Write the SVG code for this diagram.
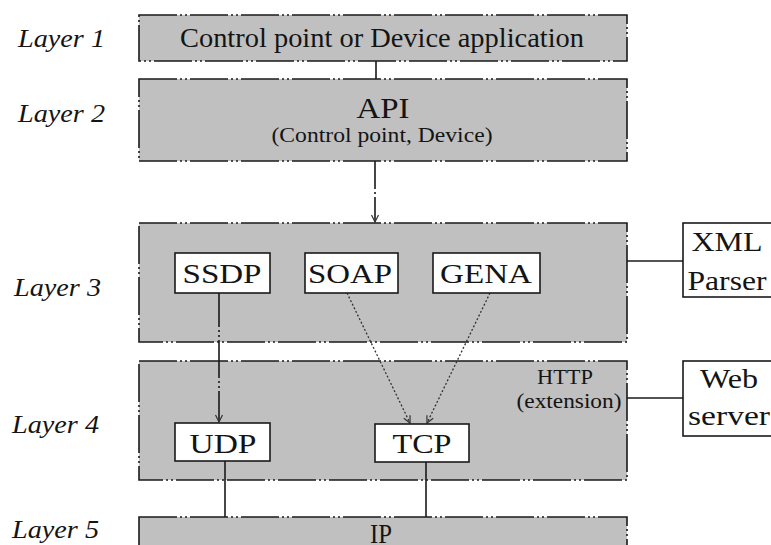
<svg xmlns="http://www.w3.org/2000/svg" width="771" height="545" viewBox="0 0 771 545">
<style>
.layer{fill:#c0c0c0;stroke:#1a1a1a;stroke-width:1.6;stroke-dasharray:38 3 2 3 2 3}
.box{fill:#ffffff;stroke:#1a1a1a;stroke-width:1.6}
.t{font-family:'Liberation Serif','DejaVu Serif','Times New Roman',serif;fill:#141414;text-anchor:middle}
.lbl{font-family:'Liberation Serif','DejaVu Serif','Times New Roman',serif;font-style:italic;font-size:26px;fill:#141414}
.c{fill:none;stroke:#1a1a1a;stroke-width:1.6}
.d{fill:none;stroke:#333;stroke-width:1.3;stroke-dasharray:2 2}
</style>
<defs>
<marker id="arr" viewBox="-8 -5 10 10" refX="0" refY="0" markerWidth="10" markerHeight="10" markerUnits="userSpaceOnUse" orient="auto">
<path d="M-7,-3.5 L0,0 L-7,3.5" fill="none" stroke="#333" stroke-width="1.2"/>
</marker>
</defs>
<rect width="771" height="545" fill="#ffffff"/>

<g id="labels">
<text class="lbl" x="18" y="47" textLength="87" lengthAdjust="spacingAndGlyphs">Layer 1</text>
<text class="lbl" x="18" y="122" textLength="87" lengthAdjust="spacingAndGlyphs">Layer 2</text>
<text class="lbl" x="14" y="296" textLength="87" lengthAdjust="spacingAndGlyphs">Layer 3</text>
<text class="lbl" x="12" y="433" textLength="87" lengthAdjust="spacingAndGlyphs">Layer 4</text>
<text class="lbl" x="12" y="538" textLength="87" lengthAdjust="spacingAndGlyphs">Layer 5</text>
</g>

<g id="layer1">
<rect class="layer" x="139" y="15" width="488" height="46"/>
<text class="t" x="382" y="47" font-size="27" textLength="404" lengthAdjust="spacingAndGlyphs">Control point or Device application</text>
</g>

<g id="layer2">
<rect class="layer" x="139" y="79" width="488" height="82"/>
<text class="t" x="383" y="118" font-size="30" textLength="53" lengthAdjust="spacingAndGlyphs">API</text>
<text class="t" x="382" y="142" font-size="21" textLength="221" lengthAdjust="spacingAndGlyphs">(Control point, Device)</text>
</g>

<g id="layer3">
<rect class="layer" x="139" y="223" width="488" height="119"/>
</g>

<g id="layer4">
<rect class="layer" x="139" y="361" width="488" height="119"/>
<text class="t" x="565" y="384" font-size="21" textLength="56" lengthAdjust="spacingAndGlyphs">HTTP</text>
<text class="t" x="569" y="408" font-size="21" textLength="105" lengthAdjust="spacingAndGlyphs">(extension)</text>
</g>

<g id="layer5">
<rect class="layer" x="139" y="517" width="488" height="40"/>
<text class="t" x="381" y="543" font-size="27" textLength="22" lengthAdjust="spacingAndGlyphs">IP</text>
</g>

<g id="connectors">
<line class="c" x1="376" y1="61" x2="376" y2="79"/>
<line class="c" x1="375" y1="161" x2="375" y2="222" stroke-dasharray="28 3 2 3 40" marker-end="url(#arr)"/>
<line class="c" x1="219" y1="293" x2="219" y2="422" stroke-dasharray="34 3 2 3 2 3 38 3 2 3 2 3 60" marker-end="url(#arr)"/>
<line class="d" x1="347" y1="293" x2="410" y2="423" marker-end="url(#arr)"/>
<line class="d" x1="490" y1="293" x2="427" y2="423" marker-end="url(#arr)"/>
<line class="c" x1="225" y1="461" x2="225" y2="517"/>
<line class="c" x1="426" y1="462" x2="426" y2="517"/>
<line class="c" x1="627" y1="261" x2="683" y2="261"/>
<line class="c" x1="627" y1="398" x2="683" y2="398"/>
</g>

<g id="ssdp">
<rect class="box" x="175" y="253" width="95" height="40"/>
<text class="t" x="222" y="283" font-size="27" textLength="79" lengthAdjust="spacingAndGlyphs">SSDP</text>
</g>
<g id="soap">
<rect class="box" x="305" y="253" width="93" height="40"/>
<text class="t" x="350" y="283" font-size="27" textLength="84" lengthAdjust="spacingAndGlyphs">SOAP</text>
</g>
<g id="gena">
<rect class="box" x="433" y="253" width="107" height="40"/>
<text class="t" x="486" y="283" font-size="27" textLength="92" lengthAdjust="spacingAndGlyphs">GENA</text>
</g>
<g id="udp">
<rect class="box" x="175" y="423" width="95" height="38"/>
<text class="t" x="223" y="453" font-size="27" textLength="67" lengthAdjust="spacingAndGlyphs">UDP</text>
</g>
<g id="tcp">
<rect class="box" x="375" y="424" width="94" height="38"/>
<text class="t" x="422" y="453" font-size="27" textLength="59" lengthAdjust="spacingAndGlyphs">TCP</text>
</g>
<g id="xml-parser">
<rect class="box" x="683" y="223" width="100" height="74"/>
<text class="t" x="727" y="251" font-size="27" textLength="71" lengthAdjust="spacingAndGlyphs">XML</text>
<text class="t" x="727" y="290" font-size="27" textLength="79" lengthAdjust="spacingAndGlyphs">Parser</text>
</g>
<g id="web-server">
<rect class="box" x="683" y="361" width="100" height="75"/>
<text class="t" x="729" y="388" font-size="27" textLength="58" lengthAdjust="spacingAndGlyphs">Web</text>
<text class="t" x="729" y="425" font-size="27" textLength="82" lengthAdjust="spacingAndGlyphs">server</text>
</g>
</svg>
